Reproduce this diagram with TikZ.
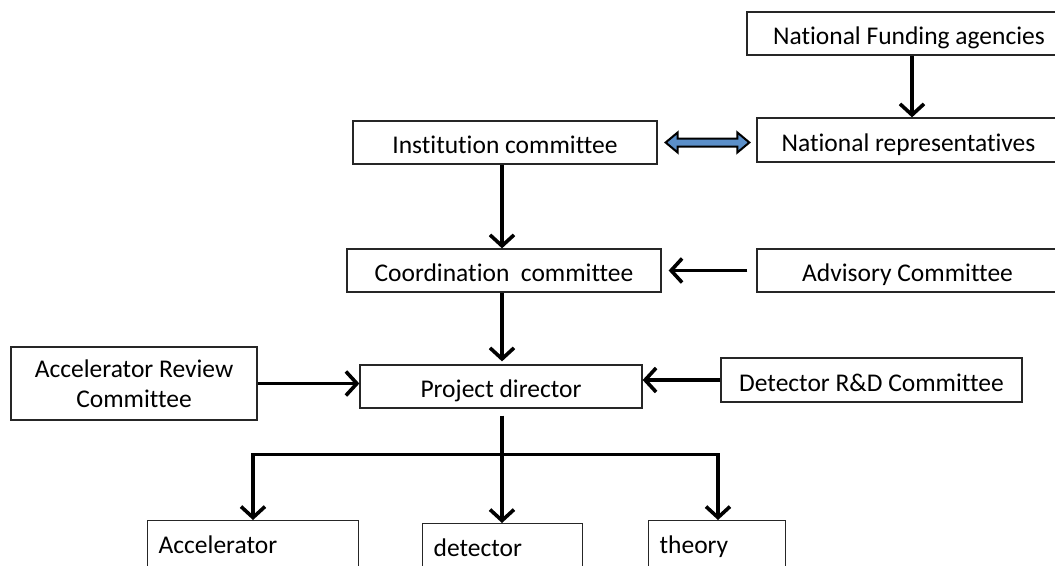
\documentclass[tikz,border=0pt]{standalone}
\usepackage{fontspec}
\setmainfont{Carlito}[Ligatures=NoCommon]
\usetikzlibrary{arrows.meta,calc}
\definecolor{dblblue}{HTML}{5B8FC9}
\tikzset{
  box/.style={draw=black!85,line width=1.3pt,fill=white,inner sep=0pt,font=\fontsize{25.5}{29}\selectfont,align=center},
  onebox/.style={box,text height=22pt,text depth=0pt},
  leafbox/.style={box,anchor=north west,minimum height=70pt,align=left,inner xsep=11pt,text height=14pt,text depth=18pt},
  conn/.style={line width=3.6pt,-{Straight Barb[length=11pt,width=24pt,line width=3.6pt]}},
  plainline/.style={line width=3.6pt},
}
\begin{document}
\begin{tikzpicture}[x=1pt,y=-1pt]
\useasboundingbox (0,0) rectangle (1055,565);
\node[onebox,minimum width=324pt,minimum height=43pt] (nfa) at (909,33.5) {National Funding agencies};
\node[onebox,minimum width=303pt,minimum height=44pt] (nr) at (908.5,140) {National representatives};
\node[onebox,minimum width=304pt,minimum height=43pt] (inst) at (505,142.5) {Institution committee};
\node[onebox,minimum width=314pt,minimum height=43pt] (coord) at (504,270.5) {Coordination\ \ committee};
\node[onebox,minimum width=301pt,minimum height=43pt] (adv) at (907.5,270.5) {Advisory Committee};
\node[box,minimum width=246pt,minimum height=73pt,font=\fontsize{25.5}{30}\selectfont] (arc) at (134,383.5) {Accelerator Review\\Committee};
\node[onebox,minimum width=282pt,minimum height=43pt] (pd) at (501,386.5) {Project director};
\node[onebox,minimum width=301pt,minimum height=44pt] (drd) at (871.5,380) {Detector R\&D Committee};
\node[leafbox,text width=189pt] (acc) at (147,520) {Accelerator};
\node[leafbox,text width=138pt] (det) at (422,523) {detector};
\node[leafbox,text width=115pt] (th) at (648,520) {theory};
% connectors
\draw[conn] ([xshift=3pt]nfa.south) -- ([xshift=3.5pt]nr.north);
\draw[conn] ([xshift=-3pt]inst.south) -- ([xshift=-2pt]coord.north);
\draw[conn,shorten <=9pt,shorten >=7pt] (adv.west) -- (adv.west -| coord.east);
\draw[conn,shorten >=3pt] ([xshift=-2pt]coord.south) -- ([xshift=-2pt]coord.south |- pd.north);
\draw[conn] (arc.east) -- (arc.east -| pd.west);
\draw[conn] (drd.west) -- (drd.west -| pd.east);
\coordinate (hub) at ($(pd.south)+(1,46)$);
\coordinate (accin) at ($(acc.north west)+(106,0)$);
\coordinate (thin) at ($(th.north west)+(70,0)$);
\draw[plainline] ($(pd.south)+(1,7)$) -- (hub);
\draw[plainline,line cap=rect] (hub -| accin) -- (hub -| thin);
\draw[conn] (hub -| accin) -- (accin);
\draw[conn] (hub) -- (hub |- det.north);
\draw[conn] (hub -| thin) -- (thin);
% double arrow between institution committee and national representatives
\coordinate (da) at ($(inst.east)+(8,0)$);
\coordinate (db) at ($(da -| nr.west)+(-7,0)$);
\draw[line width=2pt,fill=dblblue,line join=miter]
  (da) -- ++(12,-10) -- ++(0,6) -- ($(db)+(-12,-4)$) -- ++(0,-6) -- (db)
  -- ++(-12,10) -- ++(0,-6) -- ($(da)+(12,4)$) -- ++(0,6) -- cycle;
\end{tikzpicture}
\end{document}
